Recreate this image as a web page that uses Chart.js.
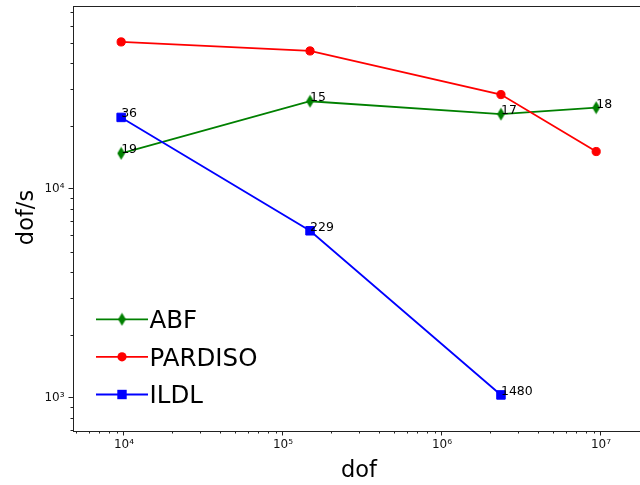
<!DOCTYPE html>
<html><head><meta charset="utf-8">
<script src="https://cdn.jsdelivr.net/npm/chart.js@4.4.1/dist/chart.umd.min.js"></script>
<style>html,body{margin:0;padding:0;background:#fff}#wrap{width:640px;height:485px;position:relative}</style>
</head><body><div id="wrap"><canvas id="c" width="640" height="485"></canvas></div>
<script>
// ---- data ----
const dof = [9600, 148000, 2350000, 9330000];
const abf = [14800, 26300, 22800, 24500];
const pardiso = [50600, 45800, 28300, 15100];
const ildl = [22000, 6300, 1030];
const abfLabels = ['19', '15', '17', '18'];
const ildlLabels = ['36', '229', '1480'];
const seriesNames = ['ABF', 'PARDISO', 'ILDL'];
const xTicks = [1e4, 1e5, 1e6, 1e7];
const yTicks = [1e3, 1e4];
const xRange = [4780, 1.76e7];
const yRange = [692, 75200];
const xTitle = 'dof';
const yTitle = 'dof/s';

// ---- styling ----
const FONT = "'DejaVu Sans', 'Liberation Sans', sans-serif";
Chart.defaults.font.family = FONT;
const SUP = {'0':'⁰','1':'¹','2':'²','3':'³','4':'⁴','5':'⁵','6':'⁶','7':'⁷','8':'⁸','9':'⁹'};
function powLabel(v) {
  const e = Math.round(Math.log10(v));
  return '10' + String(e).split('').map(c => SUP[c]).join('');
}

function thinDiamond(color) {
  const c = document.createElement('canvas');
  c.width = 9; c.height = 14;
  const g = c.getContext('2d');
  g.fillStyle = color;
  g.beginPath();
  g.moveTo(4.5, 0.6); g.lineTo(8.4, 7); g.lineTo(4.5, 13.4); g.lineTo(0.6, 7);
  g.closePath(); g.fill();
  return c;
}
const GREEN = '#008000', RED = '#ff0000', BLUE = '#0000ff';
const diamondImg = thinDiamond(GREEN);

function pts(ys) { return ys.map((y, i) => ({x: dof[i], y: y})); }

const LW = 1.8;
const datasets = [
  {label: seriesNames[0], data: pts(abf), borderColor: GREEN, backgroundColor: GREEN,
   pointStyle: diamondImg, pointRadius: 6, borderWidth: LW, order: 2, annot: abfLabels},
  {label: seriesNames[1], data: pts(pardiso), borderColor: RED, backgroundColor: RED,
   pointStyle: 'circle', pointRadius: 4.1, pointBorderWidth: 1, borderWidth: LW, order: 1},
  {label: seriesNames[2], data: pts(ildl), borderColor: BLUE, backgroundColor: BLUE,
   pointStyle: 'rect', pointRadius: 6, pointBorderWidth: 1, borderWidth: LW, order: 0, annot: ildlLabels}
];

const AXIS = '#222';

const decor = {
  id: 'decor',
  afterDatasetsDraw(chart) {
    const ctx = chart.ctx;
    ctx.save();
    ctx.fillStyle = '#000';
    ctx.font = '12.5px ' + FONT;
    ctx.textAlign = 'left';
    ctx.textBaseline = 'alphabetic';
    chart.data.datasets.forEach((ds, di) => {
      if (!ds.annot) return;
      const meta = chart.getDatasetMeta(di);
      meta.data.forEach((p, i) => { ctx.fillText(ds.annot[i], p.x, p.y); });
    });
    ctx.restore();
  },
  afterDraw(chart) {
    const ctx = chart.ctx, ca = chart.chartArea;
    const xs = chart.scales.x, ys = chart.scales.y;
    ctx.save();
    // top spine
    ctx.strokeStyle = AXIS; ctx.lineWidth = 1;
    ctx.beginPath(); ctx.moveTo(ca.left, ca.top + 0.5); ctx.lineTo(ca.right, ca.top + 0.5); ctx.stroke();
    // minor ticks
    for (let e = 2; e <= 7; e++) for (let m = 2; m <= 9; m++) {
      const v = m * Math.pow(10, e);
      if (v > xs.min && v < xs.max) {
        const px = Math.round(xs.getPixelForValue(v)) + 0.5;
        ctx.beginPath(); ctx.moveTo(px, ca.bottom); ctx.lineTo(px, ca.bottom + 2.5); ctx.stroke();
      }
      if (v > ys.min && v < ys.max) {
        const py = Math.round(ys.getPixelForValue(v)) + 0.5;
        ctx.beginPath(); ctx.moveTo(ca.left, py); ctx.lineTo(ca.left - 2.5, py); ctx.stroke();
      }
    }
    // axis titles
    ctx.fillStyle = '#000';
    ctx.font = '22.5px ' + FONT;
    ctx.textAlign = 'center'; ctx.textBaseline = 'alphabetic';
    ctx.fillText(xTitle, (ca.left + ca.right) / 2 + 2.5, 477);
    ctx.save();
    ctx.translate(33, (ca.top + ca.bottom) / 2 - 1);
    ctx.rotate(-Math.PI / 2);
    ctx.fillText(yTitle, 0, 0);
    ctx.restore();
    // legend
    const rows = [319.3, 356.8, 394.5];
    const lx0 = ca.left + 23, lx1 = ca.left + 75, mx = (lx0 + lx1) / 2;
    chart.data.datasets.forEach((ds, i) => {
      const y = rows[i];
      ctx.strokeStyle = ds.borderColor; ctx.lineWidth = LW;
      ctx.beginPath(); ctx.moveTo(lx0, y); ctx.lineTo(lx1, y); ctx.stroke();
      ctx.fillStyle = ds.borderColor;
      if (ds.pointStyle === 'circle') {
        ctx.beginPath(); ctx.arc(mx, y, 4.6, 0, Math.PI * 2); ctx.fill();
      } else if (ds.pointStyle === 'rect') {
        ctx.fillRect(mx - 4.7, y - 4.7, 9.4, 9.4);
      } else {
        ctx.drawImage(ds.pointStyle, mx - 4.5, y - 7);
      }
      ctx.fillStyle = '#000';
      ctx.font = '24.5px ' + FONT;
      ctx.textAlign = 'left';
      ctx.fillText(ds.label, lx1 + 1.5, y + 0.365 * 24.5);
    });
    ctx.restore();
  }
};

function zeroPad(s) { s.paddingLeft = 0; s.paddingRight = 0; s.paddingTop = 0; s.paddingBottom = 0; }

new Chart(document.getElementById('c'), {
  type: 'line',
  data: {datasets: datasets},
  plugins: [decor],
  options: {
    responsive: false,
    animation: false,
    devicePixelRatio: 1,
    layout: {autoPadding: false, padding: {top: 6, left: 0, right: 0, bottom: 0}},
    plugins: {legend: {display: false}, tooltip: {enabled: false}},
    elements: {line: {tension: 0}},
    scales: {
      x: {
        type: 'logarithmic', min: xRange[0], max: xRange[1],
        afterBuildTicks: s => { s.ticks = xTicks.map(v => ({value: v})); },
        afterFit: s => { s.height = 54; zeroPad(s); },
        grid: {drawOnChartArea: false, drawTicks: true, tickLength: 4.5, color: AXIS, tickWidth: 1},
        border: {display: true, color: AXIS, width: 1},
        ticks: {autoSkip: false, maxRotation: 0, color: '#111', font: {size: 12}, padding: 2,
                callback: v => powLabel(v)}
      },
      y: {
        type: 'logarithmic', min: yRange[0], max: yRange[1],
        afterBuildTicks: s => { s.ticks = yTicks.map(v => ({value: v})); },
        afterFit: s => { s.width = 73; zeroPad(s); },
        grid: {drawOnChartArea: false, drawTicks: true, tickLength: 4.5, color: AXIS, tickWidth: 1},
        border: {display: true, color: AXIS, width: 1},
        ticks: {autoSkip: false, color: '#111', font: {size: 12}, padding: 4,
                callback: v => powLabel(v)}
      }
    }
  }
});
</script>
</body></html>
